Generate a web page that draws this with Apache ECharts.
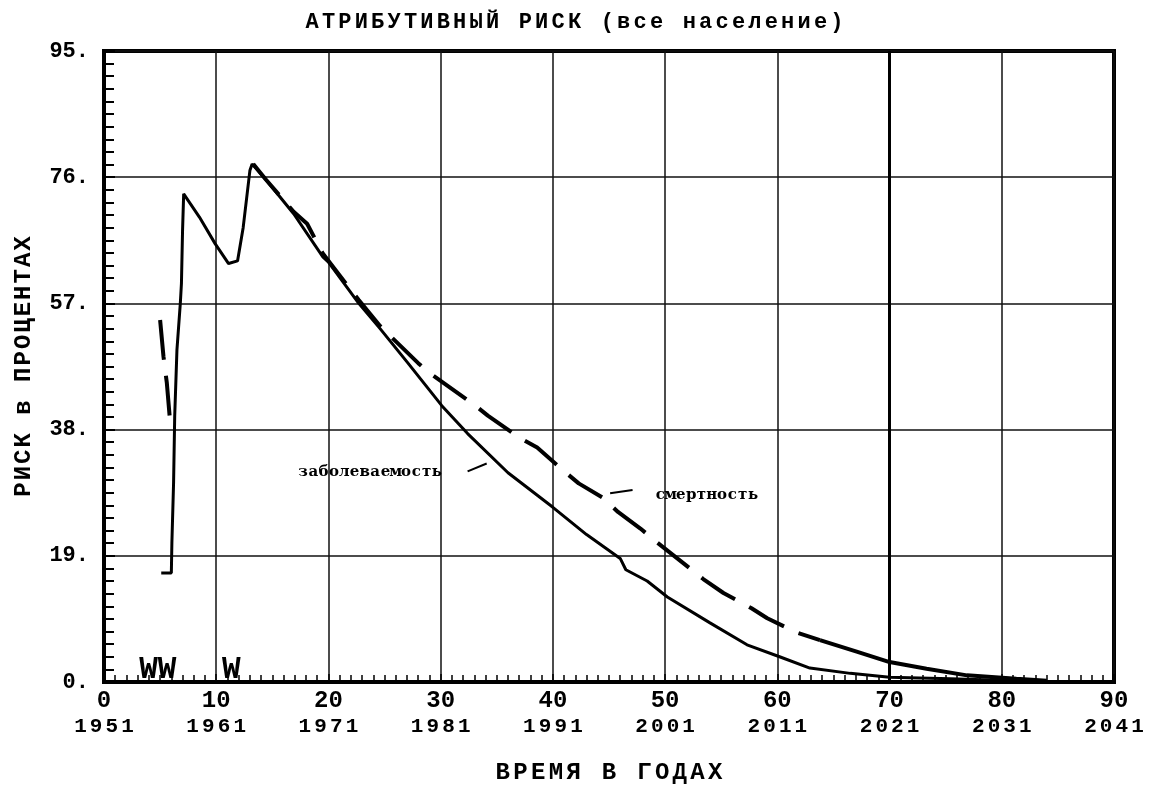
<!DOCTYPE html>
<html>
<head>
<meta charset="utf-8">
<script src="https://cdn.jsdelivr.net/npm/echarts@6/dist/echarts.min.js"></script>
<style>
html, body { margin: 0; background: #fff; }
#chart { width: 1149px; height: 790px; }
</style>
</head>
<body>
<div id="chart"></div>
<script>
// заболеваемость (сплошная)
var incidence = [
    [5.1,16.4],[6.0,16.4],[6.05,21],[6.2,30],[6.3,40],[6.5,50],[6.8,57],[6.9,60],[7.0,68],[7.1,73.5],
    [8.5,70],[9.9,66],[11.1,63],[11.9,63.4],[12.4,68.4],[13.0,77],[13.2,78],[14.4,75.7],[16.9,70.5],
    [19.5,64],[20,63.2],[22.7,57],[24.6,53.2],[27,48.2],[30.1,41.6],[32.4,37.4],[36,31.5],[40,26.3],
    [43,22.2],[46,18.6],[46.5,16.9],[48.4,15.2],[50.2,12.8],[54,8.9],[57.3,5.6],[60.2,3.8],[62.9,2.1],
    [66.5,1.3],[70,0.7],[75.4,0.5],[81.3,0.2],[84,0.05]
];
// смертность (пунктир); null — разрыв линии
var mortality = [
    [5.0,54.5],[5.3,49],[5.6,45],[5.9,39], null,
    [13.3,78],[14.4,75.7],[16.9,70.8],[18.1,69],[19.5,64.5],[22.7,57.5],[24.6,53.6],[28,48],[29.1,46.4],
    [33.1,41.6],[34.2,40.1],[37.1,36.7],[38.6,35.3],[41.1,31.6],[42.3,29.9],[44.4,27.8],[45.8,25.6],
    [47.8,23.1],[49.3,21],[53.4,15.5],[55.2,13.4],[57.7,11.1],[59.1,9.6],[61.8,7.4],[63.8,6.3],
    [67,4.6],[70,3.0],[73.3,2.0],[76.9,1.0],[81.3,0.5],[84,0.2]
];
var dashEnd = 63.8; // дальше линия смертности сплошная
var yearLabels = ['1951','1961','1971','1981','1991','2001','2011','2021','2031','2041'];
var wMarks = [[4.8, 1.8, 'WW'], [11.35, 1.8, 'W']];
var notes = [[23.7, 31.6, 'заболеваемость'], [53.7, 28.1, 'смертность']];
var leaders = [[[32.4, 31.7], [34.1, 32.9]], [[45.1, 28.4], [47.1, 28.9]]];
var nowYear = 70;

var mono = "'Liberation Mono', 'DejaVu Sans Mono', monospace";
var serif = "'DejaVu Serif', 'Liberation Serif', serif";

// разрядка: каждый символ в своей ячейке фиксированной ширины
function spaced(s, key) {
    return s.split('').map(function (c) { return '{' + key + '|' + c + '}'; }).join('');
}

var k = mortality.findIndex(function (p) { return p && p[0] >= dashEnd; });
var toSeries = function (arr) { return arr.map(function (p) { return p || ['-', '-']; }); };

var myChart = echarts.init(document.getElementById('chart'));
var option = {
    backgroundColor: '#fff',
    animation: false,
    title: {
        text: spaced('АТРИБУТИВНЫЙ РИСК (все население)', 't'),
        left: 'center',
        top: 6,
        textStyle: {
            rich: {t: {fontFamily: mono, fontWeight: 'bold', fontSize: 22, width: 16.4, color: '#000'}}
        }
    },
    grid: {
        left: 104, top: 51, width: 1010, height: 631,
        show: true, borderColor: '#000', borderWidth: 4
    },
    xAxis: {
        type: 'value', min: 0, max: 90, interval: 10,
        name: spaced('ВРЕМЯ В ГОДАХ', 'n'),
        nameLocation: 'middle', nameGap: 79,
        nameTextStyle: {
            rich: {n: {fontFamily: mono, fontWeight: 'bold', fontSize: 24, width: 17.7, color: '#000'}}
        },
        axisLine: {lineStyle: {color: '#000', width: 3}},
        axisTick: {show: true, inside: true, length: 8, lineStyle: {color: '#000', width: 1.5}},
        minorTick: {show: true, splitNumber: 10, length: 7, lineStyle: {color: '#000', width: 1.5}},
        splitLine: {show: true, lineStyle: {color: '#111', width: 1.5}},
        axisLabel: {
            margin: 6,
            formatter: function (v) {
                return '{a|' + v + '}\n' + spaced(yearLabels[Math.round(v / 10)], 'b');
            },
            rich: {
                a: {fontFamily: mono, fontWeight: 'bold', fontSize: 24, lineHeight: 26, color: '#000'},
                b: {fontFamily: mono, fontWeight: 'bold', fontSize: 21, lineHeight: 26, width: 15.7, color: '#000'}
            }
        }
    },
    yAxis: {
        type: 'value', min: 0, max: 95, interval: 19,
        name: spaced('РИСК в ПРОЦЕНТАХ', 'n'),
        nameLocation: 'middle', nameGap: 68,
        nameTextStyle: {
            rich: {n: {fontFamily: mono, fontWeight: 'bold', fontSize: 24, width: 16.4, color: '#000'}}
        },
        axisLine: {lineStyle: {color: '#000', width: 4}},
        axisTick: {show: true, inside: true, length: 11, lineStyle: {color: '#000', width: 2}},
        minorTick: {show: true, splitNumber: 10, length: 10, lineStyle: {color: '#000', width: 2}},
        splitLine: {show: true, lineStyle: {color: '#111', width: 1.5}},
        axisLabel: {
            margin: 15,
            formatter: function (v) { return v + '.'; },
            fontFamily: mono, fontWeight: 'bold', fontSize: 22, color: '#000'
        }
    },
    series: [
        {
            name: 'заболеваемость', type: 'line', showSymbol: false,
            lineStyle: {color: '#000', width: 3},
            data: incidence,
            markLine: {
                silent: true, symbol: ['none', 'none'], label: {show: false},
                lineStyle: {color: '#000', width: 3, type: 'solid'},
                data: [{xAxis: nowYear}]
            }
        },
        {
            name: 'смертность', type: 'line', showSymbol: false, connectNulls: false,
            lineStyle: {color: '#000', width: 4, type: [40, 16]},
            data: toSeries(mortality.slice(0, k + 1))
        },
        {
            name: 'смертность', type: 'line', showSymbol: false,
            lineStyle: {color: '#000', width: 4},
            data: toSeries(mortality.slice(k))
        },
        {
            name: 'подписи', type: 'scatter', symbolSize: 0, silent: true,
            itemStyle: {opacity: 1, color: '#000'},
            data: notes,
            label: {
                show: true, position: 'inside', opacity: 1,
                formatter: function (p) { return spaced(p.data[2], 's'); },
                rich: {s: {fontFamily: serif, fontWeight: 'bold', fontSize: 15, width: 10.3, color: '#000',
                    textBorderWidth: 0}}
            },
            markLine: {
                silent: true, symbol: ['none', 'none'], label: {show: false},
                lineStyle: {color: '#000', width: 2, type: 'solid', opacity: 1},
                data: leaders.map(function (l) { return [{coord: l[0]}, {coord: l[1]}]; })
            }
        },
        {
            name: 'W', type: 'scatter', symbolSize: 0, silent: true,
            itemStyle: {opacity: 1, color: '#000'},
            data: wMarks,
            label: {
                show: true, position: 'inside', opacity: 1,
                formatter: function (p) { return p.data[2]; },
                fontFamily: mono, fontWeight: 'bold', fontSize: 31, color: '#000',
                textBorderWidth: 0
            }
        }
    ]
};
myChart.setOption(option);
</script>
</body>
</html>
